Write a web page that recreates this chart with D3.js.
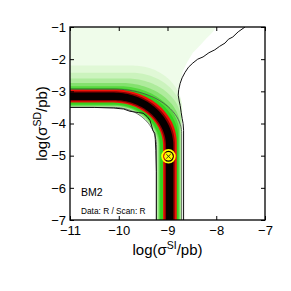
<!DOCTYPE html>
<html><head><meta charset="utf-8">
<script src="https://cdn.jsdelivr.net/npm/d3@7"></script>
<style>body{margin:0;background:#fff}svg{display:block}text{font-family:"Liberation Sans",Arial,sans-serif;fill:#000}</style>
</head><body><svg id="c" width="291" height="291"></svg>
<script>
// ---- data ----
const xDomain = [-11, -7];
const yDomain = [-7, -1];
const xTicks = [-11, -10, -9, -8, -7];
const yTicks = [-7, -6, -5, -4, -3, -2, -1];

// likelihood levels (outer -> inner)
const levelColors = ["#e0f8d6", "#cbf3bd", "#aeeb9c", "#84e16e", "#55d83e", "#33d11f", "#ee1208", "#8c0000", "#060000"];
// upper/right boundary of each level: flat log(sigma_SD) level, vertical log(sigma_SI) level, bend start (SI), bend end (SD)
const upperSD     = [-2.20, -2.42, -2.60, -2.74, -2.84, -2.90, -2.94, -3.00, -3.04];
const upperSI     = [-8.70, -8.71, -8.72, -8.74, -8.76, -8.78, -8.81, -8.85, -8.88];
const upperBendSI = [-9.70, -9.75, -9.85, -9.95, -10.0, -10.05, -10.1, -10.1, -10.1];
const upperBendSD = [-3.55, -3.70, -3.90, -4.10, -4.30, -4.45, -4.60, -4.65, -4.70];
// lower/left boundary of each level
const lowerSD     = [-3.50, -3.50, -3.48, -3.46, -3.44, -3.41, -3.35, -3.31, -3.27];
const lowerSI     = [-9.22, -9.22, -9.21, -9.19, -9.17, -9.15, -9.09, -9.06, -9.03];
const lowerBendSI = -10.1, lowerBendSD = -4.7;

// faint outer region edge (SI, SD)
const paleEdge = [[-7.99,-1],[-8.1,-1.2],[-8.2,-1.35],[-8.35,-1.6],[-8.48,-1.8],[-8.6,-2.1],[-8.68,-2.35],[-8.74,-2.7],[-8.77,-3.0],[-8.78,-3.3],[-8.74,-3.8],[-8.71,-4.3],[-8.70,-7]];
// grey contour (upper & lower)
const greyUpper = [-2.93, -8.71, -10.1, -4.3];
const greyLower = [-3.50, -9.225];
// black outer contour lines
const contourUpper = [[-7.41,-1.0],[-7.55,-1.15],[-7.66,-1.31],[-7.75,-1.38],[-7.82,-1.50],[-7.93,-1.60],[-8.03,-1.71],[-8.15,-1.80],[-8.27,-1.93],[-8.38,-2.0],[-8.48,-2.12],[-8.57,-2.25],[-8.64,-2.41],[-8.70,-2.58],[-8.74,-2.75],[-8.77,-2.95],[-8.78,-3.12],[-8.76,-3.3],[-8.74,-3.44],[-8.72,-3.65],[-8.70,-3.84],[-8.68,-4.0],[-8.67,-4.21],[-8.67,-7]];
const contourLower = [[-11,-3.5],[-10.5,-3.5],[-10.1,-3.52],[-9.9,-3.55],[-9.77,-3.62],[-9.6,-3.66],[-9.5,-3.68],[-9.42,-3.78],[-9.36,-3.90],[-9.33,-4.05],[-9.30,-4.21],[-9.26,-4.31],[-9.25,-4.5],[-9.24,-4.83],[-9.23,-5.5],[-9.23,-7]];
const bestFit = [-8.98, -5.02];
const labelName = "BM2";
const labelInfo = "Data: R / Scan: R";

// ---- drawing ----
const svg = d3.select("#c");
const L = 70, R = 265, T = 27, B = 220;
const x = d3.scaleLinear().domain(xDomain).range([L, R]);
const y = d3.scaleLinear().domain(yDomain).range([B, T]);

svg.append("clipPath").attr("id","clip").append("rect").attr("x",L).attr("y",T).attr("width",R-L).attr("height",B-T);
const g = svg.append("g").attr("clip-path","url(#clip)");

function boundary(a, b, xc, yc) {
  const pts = [[xDomain[0], a], [xc, a]];
  for (let i = 1; i < 40; i++) {
    const t = i / 40 * Math.PI / 2;
    pts.push([xc + (b - xc) * Math.sin(t), yc + (a - yc) * Math.cos(t)]);
  }
  pts.push([b, yc], [b, yDomain[0]]);
  return pts;
}
const line = d3.line().x(d => x(d[0])).y(d => y(d[1]));

// pale outer region
const lower0 = boundary(lowerSD[0], lowerSI[0], lowerBendSI, lowerBendSD);
g.append("path").attr("d", line([[xDomain[0], yDomain[1]], ...paleEdge, ...lower0.slice().reverse()]) + "Z")
  .attr("fill", "#effcea");

levelColors.forEach((c, i) => {
  const up = boundary(upperSD[i], upperSI[i], upperBendSI[i], upperBendSD[i]);
  const lo = boundary(lowerSD[i], lowerSI[i], lowerBendSI, lowerBendSD);
  g.append("path").attr("d", line([...up, ...lo.reverse()]) + "Z").attr("fill", c);
});

g.append("path").attr("d", line(boundary(...greyUpper))).attr("fill","none").attr("stroke","#4a4a4a").attr("stroke-width",0.8);
g.append("path").attr("d", line(boundary(greyLower[0], greyLower[1], lowerBendSI, lowerBendSD))).attr("fill","none").attr("stroke","#4a4a4a").attr("stroke-width",0.8);
g.append("path").attr("d", line(contourUpper)).attr("fill","none").attr("stroke","#111").attr("stroke-width",1);
g.append("path").attr("d", line(contourLower)).attr("fill","none").attr("stroke","#111").attr("stroke-width",1);

// best fit marker
const m = g.append("g").attr("transform", `translate(${x(bestFit[0])},${y(bestFit[1])})`);
m.append("circle").attr("r", 4.3).attr("fill", "#ffff00");
m.append("path").attr("d","M-2.2,-2.2L2.2,2.2M2.2,-2.2L-2.2,2.2").attr("stroke","#222").attr("stroke-width",0.9);
m.append("circle").attr("r", 6.4).attr("fill","none").attr("stroke","#ffff00").attr("stroke-width",1.7);

// axes (MATLAB style inward ticks)
const fs = "13px";
const fmt = d3.format("d");
const ax = svg.append("g").attr("transform",`translate(0,${B})`).call(d3.axisBottom(x).tickValues(xTicks).tickFormat(fmt).tickSize(-4).tickSizeOuter(0).tickPadding(5.5));
const at = svg.append("g").attr("transform",`translate(0,${T})`).call(d3.axisTop(x).tickValues(xTicks).tickSize(-4).tickSizeOuter(0).tickFormat(""));
const ay = svg.append("g").attr("transform",`translate(${L},0)`).call(d3.axisLeft(y).tickValues(yTicks).tickFormat(fmt).tickSize(-4).tickSizeOuter(0).tickPadding(4));
const ar = svg.append("g").attr("transform",`translate(${R},0)`).call(d3.axisRight(y).tickValues(yTicks).tickSize(-4).tickSizeOuter(0).tickFormat(""));
[ax, at, ay, ar].forEach(a => { a.select(".domain").remove(); a.selectAll("line").attr("stroke","#000"); a.selectAll("text").attr("font-size", fs).attr("font-family",'"Liberation Sans",Arial,sans-serif').attr("fill","#000"); });
svg.append("rect").attr("x",L).attr("y",T).attr("width",R-L).attr("height",B-T).attr("fill","none").attr("stroke","#000").attr("stroke-width",1.3);

// axis titles
const xt = svg.append("text").attr("x",(L+R)/2).attr("y",255).attr("text-anchor","middle").attr("font-size","15px");
xt.append("tspan").text("log(σ");
xt.append("tspan").attr("font-size","10.5px").attr("dy",-6).text("SI");
xt.append("tspan").attr("dy",6).text("/pb)");
const yt = svg.append("text").attr("transform",`translate(47,${(T+B)/2}) rotate(-90)`).attr("text-anchor","middle").attr("font-size","15px");
yt.append("tspan").text("log(σ");
yt.append("tspan").attr("font-size","10.5px").attr("dy",-6).text("SD");
yt.append("tspan").attr("dy",6).text("/pb)");

svg.append("text").attr("x",81).attr("y",196).attr("font-size","10.5px").attr("fill","#222").text(labelName);
svg.append("text").attr("x",81).attr("y",213.5).attr("font-size","8.3px").attr("fill","#333").text(labelInfo);
</script></body></html>
